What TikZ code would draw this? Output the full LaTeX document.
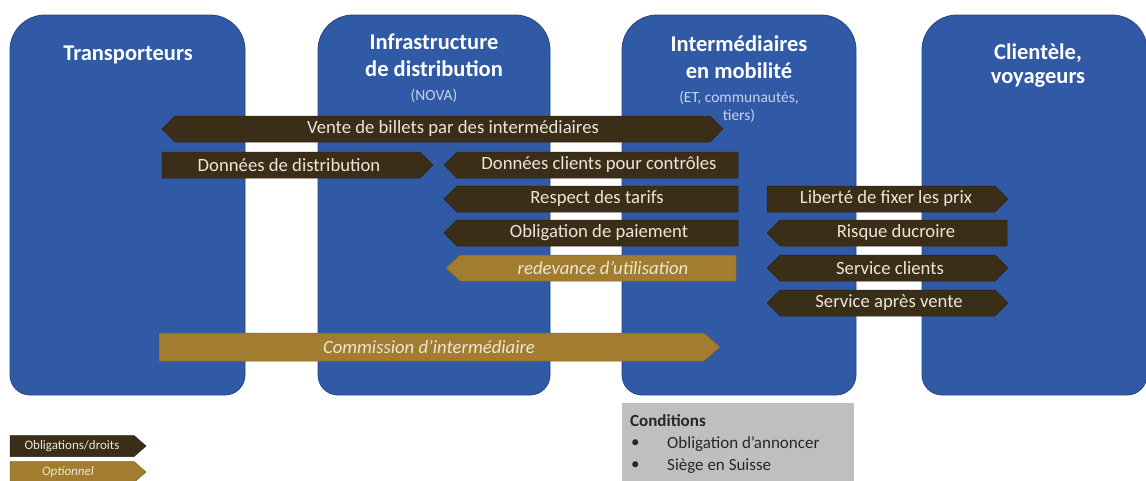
\documentclass[tikz,border=0pt]{standalone}
\usepackage{fontspec}
\setmainfont{Carlito}
\definecolor{boxblue}{HTML}{3059A6}
\definecolor{boxedge}{HTML}{27467F}
\definecolor{darkband}{HTML}{3B2E19}
\definecolor{goldband}{HTML}{A27D2F}
\definecolor{bandtext}{HTML}{ECE6D8}
\definecolor{smalltext}{HTML}{C9D3EC}
\definecolor{condgray}{HTML}{BFBFBF}
\definecolor{condtext}{HTML}{262626}
% column box: x1 x2 ytop ybottom
\newcommand\colbox[4]{%
  \filldraw[colbox] (#1,#4-20) -- (#1,#3+35) arc[start angle=180,end angle=270,radius=35]
    -- (#2-35,#3) arc[start angle=270,end angle=360,radius=35]
    -- (#2,#4-20) arc[start angle=0,end angle=90,radius=20]
    -- (#1+20,#4) arc[start angle=90,end angle=180,radius=20] -- cycle;}
% band: style, x1, x2, yc, left tip, right tip, half height
\newcommand\band[7]{%
  \filldraw[#1] (#2+#5,#4-#7) -- (#3-#6,#4-#7) -- (#3,#4) -- (#3-#6,#4+#7)
    -- (#2+#5,#4+#7) -- (#2,#4) -- cycle;}
\tikzset{
  colbox/.style={fill=boxblue,draw=boxedge,line width=0.8pt},
  dk/.style={fill=darkband,draw=darkband!80!black,line width=0.5pt},
  gd/.style={fill=goldband,draw=goldband!80!black,line width=0.5pt},
  title/.style={text=white,font=\fontsize{22.5}{25}\selectfont\bfseries,inner sep=0pt},
  sub/.style={text=smalltext,font=\fontsize{15.5}{17}\selectfont,inner sep=0pt},
  dktext/.style={text=bandtext,font=\fontsize{18.7}{21}\selectfont,inner sep=0pt},
  gdtext/.style={text=bandtext,font=\fontsize{18.7}{21}\selectfont\itshape,inner sep=0pt},
  legtext/.style={text=bandtext,font=\fontsize{13}{15}\selectfont,inner sep=0pt},
  condt/.style={text=condtext,font=\fontsize{17}{19}\selectfont,inner sep=0pt,anchor=west},
}
\begin{document}
\begin{tikzpicture}[x=1pt,y=-1pt]
\useasboundingbox (0,0) rectangle (1146,480);
\fill[white] (0,0) rectangle (1146,480);
% columns
\colbox{10}{245}{15}{395}
\colbox{318}{550}{15}{395}
\colbox{622}{856}{15}{395}
\colbox{922}{1147}{15}{395}
% titles
\node[title] (t1) at (128,55) {Transporteurs};
\node[title] (t2a) at (434,42) {Infrastructure};
\node[title] (t2b) at (434,69) {de distribution};
\node[sub] (t2c) at (434,96) {(NOVA)};
\node[title] (t3a) at (739,44) {Intermédiaires};
\node[title] (t3b) at (739,71) {en mobilité};
\node[sub] (t3c) at (739,98) {(ET, communautés,};
\node[sub] (t3d) at (739,116) {tiers)};
\node[title] (t4a) at (1038,53) {Clientèle,};
\node[title] (t4b) at (1038,80) {voyageurs};
% bands
\band{dk}{162}{723}{129}{13}{13}{13}
\node[dktext] (b1) at (453,129) {Vente de billets par des intermédiaires};
\band{dk}{162}{433}{165}{0}{13}{13}
\node[dktext] (b2) at (289,165) {Données de distribution};
\band{dk}{444}{738}{165}{13}{0}{13}
\node[dktext] (b3) at (599,165) {Données clients pour contrôles};
\band{dk}{444}{738}{199}{13}{0}{13}
\node[dktext] (b4) at (597,199) {Respect des tarifs};
\band{dk}{444}{738}{233}{13}{0}{13}
\node[dktext] (b5) at (599,233) {Obligation de paiement};
\band{gd}{446}{736}{268}{14}{0}{13}
\node[gdtext] (b6) at (603,268) {redevance d’utilisation};
\band{gd}{159}{720}{347}{0}{16}{14}
\node[gdtext] (b7) at (429,347) {Commission d’intermédiaire};
\band{dk}{767}{1008}{199}{0}{13}{13}
\node[dktext] (b8) at (886,199) {Liberté de fixer les prix};
\band{dk}{767}{1007}{233}{13}{0}{13}
\node[dktext] (b9) at (896,233) {Risque ducroire};
\band{dk}{767}{1008}{268}{13}{13}{13}
\node[dktext] (b10) at (890,268) {Service clients};
\band{dk}{767}{1008}{303}{13}{13}{13}
\node[dktext] (b11) at (889,303) {Service après vente};
% legend
\band{dk}{10}{146}{446}{0}{12}{10.5}
\node[legtext] (l1) at (72,446) {Obligations/droits};
\band{gd}{10}{146}{472}{0}{12}{10.5}
\node[legtext,font=\fontsize{13}{15}\selectfont\itshape] (l2) at (68,472) {Optionnel};
% conditions
\fill[condgray] (622,403) rectangle (854,482);
\node[condt,font=\fontsize{17}{19}\selectfont\bfseries] (c0) at (630,421) {Conditions};
\node[condt] (c1b) at (631,444) {•};
\node[condt] (c1) at (667,444) {Obligation d’annoncer};
\node[condt] (c2b) at (631,466) {•};
\node[condt] (c2) at (667,466) {Siège en Suisse};
\end{tikzpicture}
\end{document}
